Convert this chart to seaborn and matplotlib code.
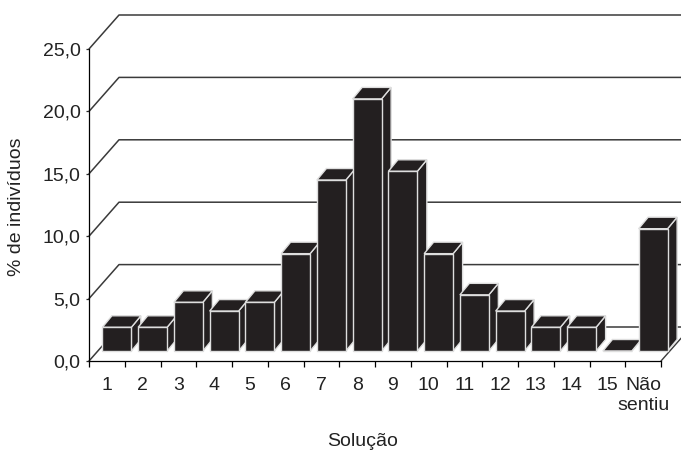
import numpy as np
import pandas as pd
import matplotlib
matplotlib.use("Agg")
import matplotlib.pyplot as plt
from matplotlib.patches import Polygon
from matplotlib.lines import Line2D
from matplotlib.transforms import Affine2D, IdentityTransform
import seaborn as sns

# Data
categories = ["1", "2", "3", "4", "5", "6", "7", "8", "9", "10",
              "11", "12", "13", "14", "15", "Não\nsentiu"]
percent = [1.9, 1.9, 3.9, 3.2, 3.9, 7.8, 13.7, 20.2, 14.4, 7.8,
           4.5, 3.2, 1.9, 1.9, 0.0, 9.8]
y_ticks = [0, 5, 10, 15, 20, 25]
y_tick_labels = ["0,0", "5,0", "10,0", "15,0", "20,0", "25,0"]
x_title = "Solução"
y_title = "% de indivíduos"

# Figure geometry (pixels)
W, H, DPI = 681, 450, 100
AX_LEFT, AX_BOTTOM, AX_RIGHT, AX_TOP = 89, 361, 661, 49
WALL = np.array([30.0, 34.0])        # depth of floor / back wall
BAR_SHIFT = np.array([10.0, 10.0])   # bars stand a bit behind the front edge
BAR_DEPTH = np.array([9.5, 11.5])    # depth of each box

BAR_COLOR = "#231f20"
EDGE_COLOR = "#dedede"
GRID_COLOR = "#3a3a3a"
FS = 14

sns.set_style("ticks")
plt.rcParams["font.family"] = ["Liberation Sans", "DejaVu Sans"]

fig = plt.figure(figsize=(W / DPI, H / DPI), dpi=DPI)
fig.patch.set_facecolor("white")
ax = fig.add_axes([AX_LEFT / W, (H - AX_BOTTOM) / H,
                   (AX_RIGHT - AX_LEFT) / W, (AX_BOTTOM - AX_TOP) / H])

df = pd.DataFrame({"cat": categories, "pct": percent})
sns.barplot(data=df, x="cat", y="pct", order=categories, color=BAR_COLOR,
            saturation=1, width=0.81, edgecolor=EDGE_COLOR, linewidth=1.0,
            errorbar=None, ax=ax)

n = len(categories)
ax.set_xlim(-0.5, n - 0.5)
ax.set_ylim(y_ticks[0], y_ticks[-1])
ax.set_xlabel("")
ax.set_ylabel("")

T = ax.transData
ident = IdentityTransform()


def px(x, y):
    return np.asarray(T.transform((x, y)), dtype=float)


# Left wall diagonals and back-wall gridlines
for v in y_ticks:
    f = px(-0.5, v)
    b = f + WALL
    r = px(n - 0.5, v) + WALL
    ax.add_line(Line2D([f[0], b[0], r[0]], [f[1], b[1], r[1]], color=GRID_COLOR,
                       lw=1.1, transform=ident, clip_on=False, zorder=1.5))

# Right floor edge
f = px(n - 0.5, 0)
b = f + WALL
ax.add_line(Line2D([f[0], b[0]], [f[1], b[1]], color=GRID_COLOR, lw=1.0,
                   transform=ident, clip_on=False, zorder=1.5))

# 3D boxes built on the seaborn bars
shift_tr = T + Affine2D().translate(*BAR_SHIFT)
for i, p in enumerate(list(ax.patches)):
    x0, w, h = p.get_x(), p.get_width(), p.get_height()
    z = 3 + 0.01 * i
    p.set_transform(shift_tr)
    p.set_clip_on(False)
    p.set_zorder(z + 0.005)
    tl = px(x0, h) + BAR_SHIFT
    tr = px(x0 + w, h) + BAR_SHIFT
    br = px(x0 + w, 0) + BAR_SHIFT
    top = Polygon([tl, tr, tr + BAR_DEPTH, tl + BAR_DEPTH], closed=True,
                  facecolor=BAR_COLOR, edgecolor=EDGE_COLOR, lw=1.0,
                  transform=ident, clip_on=False, zorder=z)
    side = Polygon([br, tr, tr + BAR_DEPTH, br + BAR_DEPTH], closed=True,
                   facecolor=BAR_COLOR, edgecolor=EDGE_COLOR, lw=1.0,
                   transform=ident, clip_on=False, zorder=z)
    ax.add_patch(side)
    ax.add_patch(top)

# Axes, ticks and labels
for s in ["top", "right"]:
    ax.spines[s].set_visible(False)
for s in ["left", "bottom"]:
    ax.spines[s].set_color("black")
    ax.spines[s].set_linewidth(0.9)
ax.set_facecolor("none")

ax.set_xticks(np.arange(-0.5, n, 1.0), labels=[""] * (n + 1))
ax.set_xticks(np.arange(n), labels=categories, minor=True)
ax.tick_params(axis="x", which="major", length=4.5, width=0.9, color="black")
ax.tick_params(axis="x", which="minor", length=0, pad=11.5, labelsize=FS)
ax.set_yticks(y_ticks, labels=y_tick_labels)
ax.tick_params(axis="y", length=2.5, width=0.9, pad=3.6, labelsize=FS)
for t in ax.get_xticklabels(minor=True) + ax.get_yticklabels():
    t.set_color("#222222")
for t in ax.get_xticklabels(minor=True):
    t.set_linespacing(1.25)

fig.text(363 / W, 1 - 446.5 / H, x_title, ha="center", va="baseline",
         fontsize=FS, color="#222222")
fig.text(16.7 / W, 1 - 206.7 / H, y_title, ha="center", va="center",
         rotation=90, fontsize=FS, color="#222222")

fig.savefig("out.png", dpi=DPI)
